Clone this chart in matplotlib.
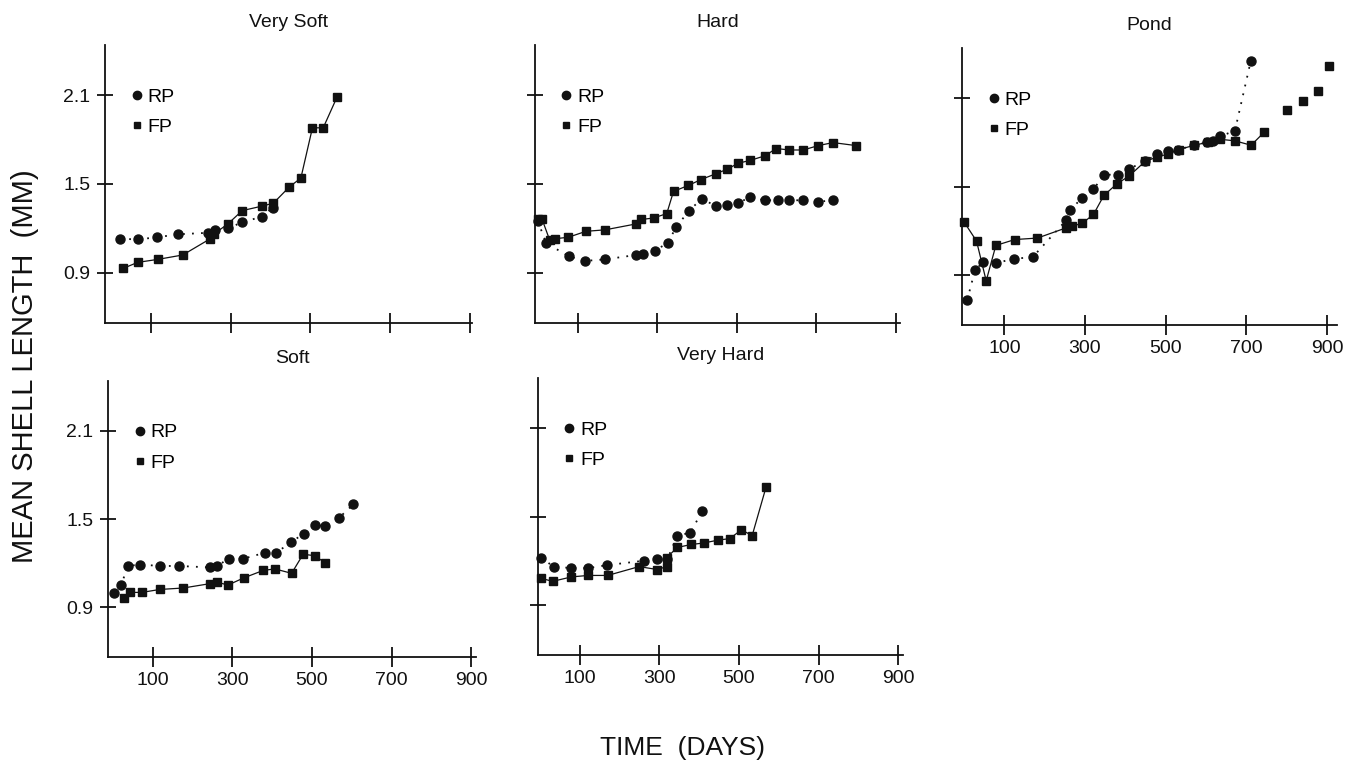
import matplotlib
matplotlib.use("Agg")
import matplotlib.pyplot as plt
from matplotlib.lines import Line2D

plt.rcParams['font.family'] = ['Liberation Sans', 'DejaVu Sans']

# ---------------- data ----------------
titles = ["Very Soft", "Hard", "Pond", "Soft", "Very Hard"]
x_ticks = [100, 300, 500, 700, 900]
y_ticks = [0.9, 1.5, 2.1]
y_tick_labels = ["0.9", "1.5", "2.1"]

vs_rp_days = [23, 67, 116, 169, 243, 260, 293, 328, 379, 405]
vs_rp_len = [1.13, 1.125, 1.14, 1.16, 1.17, 1.19, 1.20, 1.24, 1.28, 1.34]
vs_fp_days = [31, 67, 117, 180, 249, 257, 293, 329, 378, 407, 447, 476, 505, 532, 567]
vs_fp_len = [0.93, 0.97, 0.99, 1.02, 1.13, 1.16, 1.23, 1.32, 1.35, 1.37, 1.48, 1.54, 1.88, 1.88, 2.09]

hd_rp_days = [0, 21, 79, 118, 169, 247, 264, 294, 326, 348, 380, 412, 448, 476, 503, 532,
              570, 603, 632, 667, 705, 742]
hd_rp_len = [1.25, 1.10, 1.01, 0.98, 0.99, 1.02, 1.03, 1.05, 1.10, 1.21, 1.32, 1.40, 1.35,
             1.36, 1.37, 1.41, 1.39, 1.39, 1.39, 1.39, 1.38, 1.39]
hd_fp_days = [0, 11, 30, 44, 77, 121, 169, 247, 260, 291, 324, 341, 378, 410, 448, 476, 503,
              534, 570, 599, 632, 667, 705, 742, 799]
hd_fp_len = [1.26, 1.26, 1.12, 1.13, 1.14, 1.18, 1.19, 1.23, 1.26, 1.27, 1.30, 1.45, 1.49,
             1.53, 1.57, 1.60, 1.64, 1.66, 1.69, 1.74, 1.73, 1.73, 1.76, 1.78, 1.76]

pd_rp_days = [8, 27, 48, 79, 124, 170, 253, 263, 292, 321, 347, 381, 409, 449, 479, 505,
              531, 571, 603, 618, 636, 672, 711]
pd_rp_len = [0.73, 0.93, 0.99, 0.98, 1.01, 1.02, 1.27, 1.34, 1.42, 1.48, 1.58, 1.58, 1.62,
             1.67, 1.72, 1.74, 1.75, 1.78, 1.80, 1.81, 1.84, 1.88, 2.35]
pd_fp_days = [0, 31, 55, 79, 126, 182, 254, 267, 293, 321, 347, 380, 409, 449, 479, 505,
              532, 571, 604, 636, 672, 712, 745]
pd_fp_len = [1.26, 1.13, 0.86, 1.10, 1.14, 1.15, 1.22, 1.23, 1.25, 1.31, 1.44, 1.52, 1.57,
             1.67, 1.70, 1.72, 1.75, 1.78, 1.80, 1.82, 1.81, 1.78, 1.87]
pd_fp_late_days = [802, 840, 878, 906]
pd_fp_late_len = [2.02, 2.08, 2.15, 2.32]

sf_rp_days = [2, 21, 38, 69, 118, 166, 245, 262, 291, 328, 382, 410, 447, 479, 507, 534, 569, 604]
sf_rp_len = [0.997, 1.05, 1.18, 1.19, 1.18, 1.18, 1.17, 1.18, 1.23, 1.23, 1.27, 1.27, 1.34,
             1.40, 1.46, 1.45, 1.51, 1.60]
sf_fp_days = [27, 44, 73, 118, 177, 245, 262, 289, 330, 378, 407, 449, 478, 507, 534]
sf_fp_len = [0.96, 1.00, 1.00, 1.02, 1.03, 1.06, 1.07, 1.05, 1.10, 1.15, 1.16, 1.13, 1.26,
             1.25, 1.20]

vh_rp_days = [3, 34, 78, 121, 169, 262, 295, 320, 345, 378, 408]
vh_rp_len = [1.22, 1.16, 1.15, 1.15, 1.17, 1.20, 1.21, 1.21, 1.37, 1.39, 1.54]
vh_fp_days = [3, 32, 79, 121, 170, 249, 295, 318, 318, 345, 380, 411, 448, 477, 506, 533, 568]
vh_fp_len = [1.08, 1.06, 1.09, 1.10, 1.10, 1.16, 1.14, 1.16, 1.22, 1.29, 1.31, 1.32, 1.34,
             1.35, 1.41, 1.37, 1.70]

# ---------------- layout ----------------
W, H = 1360, 768
fig = plt.figure(figsize=(W / 100, H / 100), dpi=100)


def px_axes(left, right, top, bottom):
    return fig.add_axes([left / W, 1 - bottom / H, (right - left) / W, (bottom - top) / H])


INK = "#111111"

panels = [
    dict(box=(105, 472, 45, 323), title=titles[0], ylab=True, xlab=False,
         rp=(vs_rp_days, vs_rp_len), fp=(vs_fp_days, vs_fp_len), xlim=(-15, 905)),
    dict(box=(535, 900, 45, 323), title=titles[1], ylab=False, xlab=False,
         rp=(hd_rp_days, hd_rp_len), fp=(hd_fp_days, hd_fp_len), xlim=(-7, 910)),
    dict(box=(962, 1337, 48, 325), title=titles[2], ylab=False, xlab=True,
         rp=(pd_rp_days, pd_rp_len), fp=(pd_fp_days, pd_fp_len), xlim=(-5, 925)),
    dict(box=(108, 476, 381, 657), title=titles[3], ylab=True, xlab=True,
         rp=(sf_rp_days, sf_rp_len), fp=(sf_fp_days, sf_fp_len), xlim=(-12, 912)),
    dict(box=(538, 903, 378, 655), title=titles[4], ylab=False, xlab=True,
         rp=(vh_rp_days, vh_rp_len), fp=(vh_fp_days, vh_fp_len), xlim=(-5, 912)),
]

for i, p in enumerate(panels):
    ax = px_axes(*p["box"])
    ax.set_facecolor("none")
    ax.set_xlim(*p["xlim"])
    ax.set_ylim(0.56, 2.44)
    for s in ("top", "right"):
        ax.spines[s].set_visible(False)
    for s in ("left", "bottom"):
        ax.spines[s].set_linewidth(1.3)
        ax.spines[s].set_color(INK)
    ax.set_xticks(x_ticks)
    ax.set_yticks(y_ticks)
    ax.tick_params(axis="x", direction="inout", length=15, width=1.3, color=INK,
                   labelsize=14, pad=3, labelcolor=INK)
    ax.tick_params(axis="y", direction="inout", length=11, width=1.3, color=INK,
                   labelsize=14, pad=5, labelcolor=INK)
    if p["ylab"]:
        ax.set_yticklabels(y_tick_labels)
    else:
        ax.set_yticklabels([])
    if not p["xlab"]:
        ax.set_xticklabels([])

    rd, rv = p["rp"]
    fd, fv = p["fp"]
    ax.plot(rd, rv, color=INK, linestyle=(0, (1, 4)), linewidth=1.3,
            marker="o", markersize=6.5, markerfacecolor=INK, markeredgecolor=INK, clip_on=False)
    ax.plot(fd, fv, color=INK, linestyle="-", linewidth=0.9,
            marker="s", markersize=5.5, markerfacecolor=INK, markeredgecolor=INK, clip_on=False)
    if i == 2:
        ax.plot(pd_fp_late_days, pd_fp_late_len, linestyle="none", marker="s", markersize=5.5,
                color=INK, clip_on=False)

    ax.set_title(p["title"], fontsize=14, pad=13, color=INK)

    handles = [Line2D([], [], linestyle="none", marker="o", markersize=6, color=INK),
               Line2D([], [], linestyle="none", marker="s", markersize=5, color=INK)]
    ax.legend(handles, ["RP", "FP"], loc="upper left", bbox_to_anchor=(0.07, 0.845),
              frameon=False, fontsize=14, handlelength=0.6, handletextpad=0.25,
              labelspacing=0.65, borderpad=0, borderaxespad=0)

fig.text(25 / W, 1 - 366 / H, "MEAN SHELL LENGTH  (MM)", rotation=90, ha="center",
         va="center", fontsize=21, color=INK)
fig.text(682 / W, 1 - 748 / H, "TIME  (DAYS)", ha="center", va="center", fontsize=19,
         color=INK)

fig.savefig("out.png", dpi=100, facecolor="white")
